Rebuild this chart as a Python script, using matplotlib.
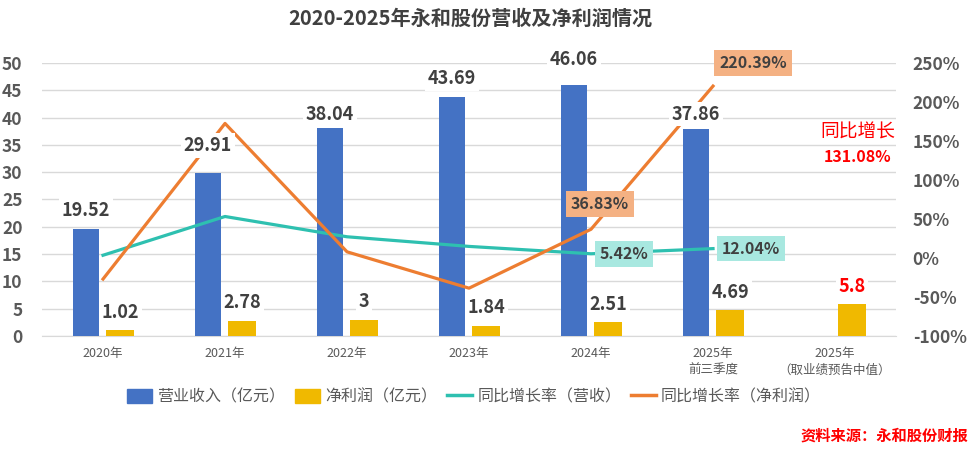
import numpy as np
import matplotlib
matplotlib.use('Agg')
import matplotlib.pyplot as plt
from matplotlib.patches import Patch
from matplotlib.lines import Line2D

plt.rcParams['font.family'] = ['Noto Sans CJK SC', 'DejaVu Sans']

# data
categories = ['2020年', '2021年', '2022年', '2023年', '2024年',
              '2025年\n前三季度', '2025年\n（取业绩预告中值）']
revenue = [19.52, 29.91, 38.04, 43.69, 46.06, 37.86, np.nan]      # 营业收入（亿元）
profit = [1.02, 2.78, 3, 1.84, 2.51, 4.69, 5.8]                     # 净利润（亿元）
rev_growth = [3.5, 53.2, 27.2, 14.85, 5.42, 12.04]                  # %
profit_growth = [-27.0, 172.5, 7.9, -38.7, 36.83, 220.39]           # %

# colours
c_blue = '#4472C4'
c_gold = '#F0B900'
c_teal = '#2EC0B0'
c_orange = '#ED7D31'
c_text = '#404040'
c_tick = '#595959'

fig = plt.figure(figsize=(9.75, 4.49), dpi=100)
ax = fig.add_axes([0.0431, 0.2517, 0.8759, 0.608])
ax2 = ax.twinx()

x = np.arange(len(categories))
w = 0.22
off = 0.14
ax.bar(x - off, revenue, w, color=c_blue, zorder=3)
ax.bar(x + off, profit, w + 0.01, color=c_gold, zorder=3)

ax.set_ylim(0, 50)
ax.set_xlim(-0.5, 6.5)
ax.set_yticks(np.arange(0, 51, 5))
ax.grid(axis='y', color='#D9D9D9', linewidth=1, zorder=0)
ax.set_axisbelow(True)
for s in ['top', 'right', 'left']:
    ax.spines[s].set_visible(False)
ax.spines['bottom'].set_color('#D9D9D9')
ax.tick_params(axis='y', length=0, pad=14, labelsize=12.5, labelcolor=c_tick)
ax.tick_params(axis='x', length=0, pad=8, labelsize=9, labelcolor=c_tick)
ax.set_xticks(x)
ax.set_xticklabels(categories, linespacing=1.4)
for lbl in ax.get_yticklabels():
    lbl.set_fontweight('bold')

# growth lines
ax2.set_ylim(-100, 250)
ax2.set_yticks(np.arange(-100, 251, 50))
ax2.set_yticklabels([f'{t}%' for t in range(-100, 251, 50)])
ax2.tick_params(axis='y', length=0, pad=12, labelsize=12.5, labelcolor=c_tick)
for lbl in ax2.get_yticklabels():
    lbl.set_fontweight('bold')
for s in ax2.spines.values():
    s.set_visible(False)
xg = x[:len(rev_growth)]
ax2.plot(xg, rev_growth, color=c_teal, linewidth=2.3, zorder=4)
ax2.plot(xg, profit_growth, color=c_orange, linewidth=2.3, zorder=4)

# bar labels (drawn on ax2 so their white boxes sit over the lines)
box_w = dict(boxstyle='square,pad=0.15', fc='white', ec='none')
rev_dy = [19, 27, 14, 19, 25, 15]
for i, v in enumerate(revenue):
    if np.isnan(v):
        continue
    ax2.annotate(f'{v:g}', (x[i] - off, v), xycoords=ax.transData, xytext=(0, rev_dy[i]),
                 textcoords='offset pixels', ha='center', va='center',
                 fontsize=13, fontweight='bold', color=c_text, bbox=box_w, zorder=5)
for i, v in enumerate(profit):
    col = 'red' if i == 6 else c_text
    ax2.annotate(f'{v:g}', (x[i] + off, v), xycoords=ax.transData, xytext=(0, 18),
                 textcoords='offset pixels', ha='center', va='center',
                 fontsize=13, fontweight='bold', color=col, bbox=box_w, zorder=5)

box_o = dict(boxstyle='square,pad=0.3', fc='#F4B183', ec='none')
box_t = dict(boxstyle='square,pad=0.3', fc='#A8E8E0', ec='none')
ax2.annotate(f'{profit_growth[5]:.2f}%', (xg[5], profit_growth[5]), xytext=(40, 23),
             textcoords='offset pixels', ha='center', va='center', fontsize=11.5,
             fontweight='bold', color=c_text, bbox=box_o, zorder=6)
ax2.annotate(f'{profit_growth[4]:.2f}%', (xg[4], profit_growth[4]), xytext=(9, 25),
             textcoords='offset pixels', ha='center', va='center', fontsize=11.5,
             fontweight='bold', color=c_text, bbox=box_o, zorder=6)
ax2.annotate(f'{rev_growth[4]:.2f}%', (xg[4], rev_growth[4]), xytext=(33, 0),
             textcoords='offset pixels', ha='center', va='center', fontsize=11.5,
             fontweight='bold', color=c_text, bbox=box_t, zorder=6)
ax2.annotate(f'{rev_growth[5]:.2f}%', (xg[5], rev_growth[5]), xytext=(38, 0),
             textcoords='offset pixels', ha='center', va='center', fontsize=11.5,
             fontweight='bold', color=c_text, bbox=box_t, zorder=6)

# forecast note
fig.text(858 / 975, 1 - 132 / 449, '同比增长', color='red', fontsize=13.5,
         ha='center', va='center')
fig.text(858 / 975, 1 - 157 / 449, '131.08%', color='red', fontsize=11.5,
         fontweight='bold', ha='center', va='center')

# title
fig.text(470 / 975, 1 - 18 / 449, '2020-2025年永和股份营收及净利润情况',
         fontsize=14.5, fontweight='bold', color=c_text, ha='center', va='center')

# legend
handles = [Patch(color=c_blue), Patch(color=c_gold),
           Line2D([], [], color=c_teal, linewidth=2.5),
           Line2D([], [], color=c_orange, linewidth=2.5)]
labels = ['营业收入（亿元）', '净利润（亿元）', '同比增长率（营收）', '同比增长率（净利润）']
fig.legend(handles, labels, loc='center', bbox_to_anchor=(474 / 975, 1 - 397 / 449),
           ncol=4, frameon=False, fontsize=11.5, labelcolor=c_tick,
           handlelength=1.6, handleheight=1.0, handletextpad=0.3, columnspacing=0.6)

# source
fig.text(968 / 975, 1 - 436 / 449, '资料来源：永和股份财报', color='red', fontsize=11,
         fontweight='bold', ha='right', va='center')

fig.savefig('out.png', dpi=100)
